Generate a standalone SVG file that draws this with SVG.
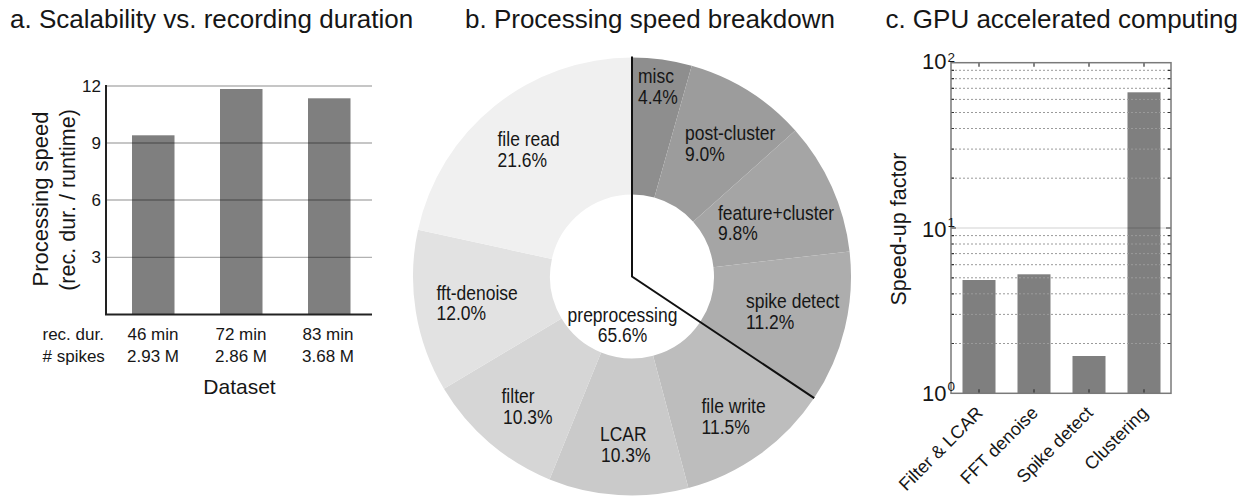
<svg xmlns="http://www.w3.org/2000/svg" width="1242" height="496" viewBox="0 0 1242 496">
<style>
text{font-family:"Liberation Sans",Arial,sans-serif;fill:#161616}
.title{font-size:26px}
.tick{font-size:17px}
.lab{font-size:17.5px}
.bar{fill:#7f7f7f}
.grid{stroke:#000;stroke-opacity:0.3;stroke-width:1.3}
.axis{stroke:#222;stroke-width:2;fill:none}
.dot{stroke:#9a9a9a;stroke-width:1;stroke-dasharray:2 2}
.box{stroke:#7a7a7a;stroke-width:1.5;fill:none}
.tk{stroke:#333;stroke-width:1.2}
</style>

<!-- Panel a -->
<g id="panel-a">
  <text class="title" x="10" y="28">a. Scalability vs. recording duration</text>
  <g id="a-bars">
    <rect class="bar" x="132" y="135.3" width="42.5" height="179.2"/>
    <rect class="bar" x="220" y="89" width="42.5" height="225.5"/>
    <rect class="bar" x="308" y="98.3" width="42.5" height="216.2"/>
  </g>
  <g id="a-grid">
    <line class="grid" x1="106" y1="86" x2="372" y2="86"/>
    <line class="grid" x1="106" y1="143" x2="372" y2="143"/>
    <line class="grid" x1="106" y1="200" x2="372" y2="200"/>
    <line class="grid" x1="106" y1="257.3" x2="372" y2="257.3"/>
  </g>
  <path class="axis" d="M106 85 V314.5 H372"/>
  <g id="a-ticks" class="tick">
    <text x="101" y="91.5" text-anchor="end">12</text>
    <text x="101" y="148.7" text-anchor="end">9</text>
    <text x="101" y="206" text-anchor="end">6</text>
    <text x="101" y="263.3" text-anchor="end">3</text>
  </g>
  <g id="a-xlabels" class="tick">
    <text x="42.5" y="340">rec. dur.</text>
    <text x="42.5" y="362"># spikes</text>
    <text x="153" y="340" text-anchor="middle">46 min</text>
    <text x="241" y="340" text-anchor="middle">72 min</text>
    <text x="328" y="340" text-anchor="middle">83 min</text>
    <text x="153" y="362" text-anchor="middle">2.93 M</text>
    <text x="241" y="362" text-anchor="middle">2.86 M</text>
    <text x="328" y="362" text-anchor="middle">3.68 M</text>
  </g>
  <text x="239.5" y="394" text-anchor="middle" font-size="21">Dataset</text>
  <text transform="translate(48,199) rotate(-90)" text-anchor="middle" font-size="22">Processing speed</text>
  <text transform="translate(75,200) rotate(-90)" text-anchor="middle" font-size="21.5">(rec. dur. / runtime)</text>
</g>

<!-- Panel b -->
<g id="panel-b">
  <text class="title" x="465" y="28">b. Processing speed breakdown</text>
  <g id="slices">
    <path id="s-misc" fill="#8e8e8e" d="M632 57.5 A219 219 0 0 1 691.72 65.8 L654.36 197.61 A82 82 0 0 0 632 194.5 Z"/>
    <path id="s-post" fill="#9c9c9c" d="M691.72 65.8 A219 219 0 0 1 795.29 130.51 L693.14 221.84 A82 82 0 0 0 654.36 197.61 Z"/>
    <path id="s-feat" fill="#a5a5a5" d="M795.29 130.51 A219 219 0 0 1 849.57 251.47 L713.46 267.13 A82 82 0 0 0 693.14 221.84 Z"/>
    <path id="s-spike" fill="#adadad" d="M849.57 251.47 A219 219 0 0 1 814.16 398.07 L700.21 322.02 A82 82 0 0 0 713.46 267.13 Z"/>
    <path id="s-fwrite" fill="#bdbdbd" d="M814.16 398.07 A219 219 0 0 1 688.41 488.12 L653.12 355.74 A82 82 0 0 0 700.21 322.02 Z"/>
    <path id="s-lcar" fill="#cacaca" d="M688.41 488.12 A219 219 0 0 1 549.55 479.38 L601.13 352.46 A82 82 0 0 0 653.12 355.74 Z"/>
    <path id="s-filter" fill="#d6d6d6" d="M549.55 479.38 A219 219 0 0 1 443.93 388.74 L561.58 318.53 A82 82 0 0 0 601.13 352.46 Z"/>
    <path id="s-fft" fill="#e2e2e2" d="M443.93 388.74 A219 219 0 0 1 418.04 229.77 L551.89 259 A82 82 0 0 0 561.58 318.53 Z"/>
    <path id="s-fread" fill="#f0f0f0" d="M418.04 229.77 A219 219 0 0 1 632 57.5 L632 194.5 A82 82 0 0 0 551.89 259 Z"/>
  </g>
  <path id="split-line" d="M632 56.5 V276.5 L814.2 398.1" fill="none" stroke="#111" stroke-width="2"/>
  <g id="pie-labels" class="lab">
    <text transform="matrix(1 0 0 1.12 638 83)">misc</text><text transform="matrix(1 0 0 1.12 638 103.5)">4.4%</text>
    <text transform="matrix(1 0 0 1.12 685 140)">post-cluster</text><text transform="matrix(1 0 0 1.12 685 161)">9.0%</text>
    <text transform="matrix(1 0 0 1.12 718 219.5)">feature+cluster</text><text transform="matrix(1 0 0 1.12 718 240)">9.8%</text>
    <text transform="matrix(1 0 0 1.12 746 308)">spike detect</text><text transform="matrix(1 0 0 1.12 746 328.5)">11.2%</text>
    <text transform="matrix(1 0 0 1.12 701.5 412.5)">file write</text><text transform="matrix(1 0 0 1.12 701.5 433.5)">11.5%</text>
    <text transform="matrix(1 0 0 1.12 600 441)">LCAR</text><text transform="matrix(1 0 0 1.12 601 461.5)">10.3%</text>
    <text transform="matrix(1 0 0 1.12 501.5 402.5)">filter</text><text transform="matrix(1 0 0 1.12 503 424)">10.3%</text>
    <text transform="matrix(1 0 0 1.12 436.5 299.5)">fft-denoise</text><text transform="matrix(1 0 0 1.12 436.5 320)">12.0%</text>
    <text transform="matrix(1 0 0 1.12 497.5 145.5)">file read</text><text transform="matrix(1 0 0 1.12 497.5 167)">21.6%</text>
    <text transform="matrix(1 0 0 1.12 622.5 321.5)" text-anchor="middle">preprocessing</text><text transform="matrix(1 0 0 1.12 622.5 341.5)" text-anchor="middle">65.6%</text>
  </g>
</g>

<!-- Panel c -->
<g id="panel-c">
  <text class="title" x="1238" y="28" text-anchor="end">c. GPU accelerated computing</text>
  <g id="c-bars">
    <rect class="bar" x="962.5" y="280" width="33" height="113.3"/>
    <rect class="bar" x="1017.5" y="274.3" width="33" height="119"/>
    <rect class="bar" x="1072.5" y="356" width="33" height="37.3"/>
    <rect class="bar" x="1127.5" y="92.3" width="33" height="301"/>
  </g>
  <g id="c-grid">
    <line class="dot" x1="951" y1="343.5" x2="1171" y2="343.5"/>
    <line class="dot" x1="951" y1="314.4" x2="1171" y2="314.4"/>
    <line class="dot" x1="951" y1="293.8" x2="1171" y2="293.8"/>
    <line class="dot" x1="951" y1="277.8" x2="1171" y2="277.8"/>
    <line class="dot" x1="951" y1="264.7" x2="1171" y2="264.7"/>
    <line class="dot" x1="951" y1="253.6" x2="1171" y2="253.6"/>
    <line class="dot" x1="951" y1="244" x2="1171" y2="244"/>
    <line class="dot" x1="951" y1="235.6" x2="1171" y2="235.6"/>
    <line x1="951" y1="228" x2="1171" y2="228" stroke="#000" stroke-opacity="0.18" stroke-width="1"/>
    <line class="dot" x1="951" y1="178.2" x2="1171" y2="178.2"/>
    <line class="dot" x1="951" y1="149.1" x2="1171" y2="149.1"/>
    <line class="dot" x1="951" y1="128.5" x2="1171" y2="128.5"/>
    <line class="dot" x1="951" y1="112.5" x2="1171" y2="112.5"/>
    <line class="dot" x1="951" y1="99.4" x2="1171" y2="99.4"/>
    <line class="dot" x1="951" y1="88.3" x2="1171" y2="88.3"/>
    <line class="dot" x1="951" y1="78.7" x2="1171" y2="78.7"/>
    <line class="dot" x1="951" y1="70.3" x2="1171" y2="70.3"/>
  </g>
  <g id="c-ticks">
    <path class="tk" d="M951 343.5h3M951 314.4h3M951 293.8h3M951 277.8h3M951 264.7h3M951 253.6h3M951 244h3M951 235.6h3M951 228h5M951 178.2h3M951 149.1h3M951 128.5h3M951 112.5h3M951 99.4h3M951 88.3h3M951 78.7h3M951 70.3h3"/>
    <path class="tk" d="M1171 343.5h-3M1171 314.4h-3M1171 293.8h-3M1171 277.8h-3M1171 264.7h-3M1171 253.6h-3M1171 244h-3M1171 235.6h-3M1171 228h-5M1171 178.2h-3M1171 149.1h-3M1171 128.5h-3M1171 112.5h-3M1171 99.4h-3M1171 88.3h-3M1171 78.7h-3M1171 70.3h-3"/>
    <path class="tk" d="M979 393.3v-4M1034 393.3v-4M1089 393.3v-4M1144 393.3v-4M979 62.7v4M1034 62.7v4M1089 62.7v4M1144 62.7v4"/>
  </g>
  <rect class="box" x="951" y="62.7" width="220" height="330.6"/>
  <g id="c-yticks">
    <text x="946.5" y="400.7" text-anchor="end" font-size="22">10</text><text x="947.5" y="391" font-size="13.5">0</text>
    <text x="946.5" y="236.5" text-anchor="end" font-size="22">10</text><text x="947.5" y="227" font-size="13.5">1</text>
    <text x="946.5" y="69" text-anchor="end" font-size="22">10</text><text x="947.5" y="61.5" font-size="13.5">2</text>
  </g>
  <text transform="translate(906,229) rotate(-90)" text-anchor="middle" font-size="21.5">Speed-up factor</text>
  <g id="c-xlabels" font-size="18">
    <text transform="translate(984,414) rotate(-45)" text-anchor="end">Filter &amp; LCAR</text>
    <text transform="translate(1039,414) rotate(-45)" text-anchor="end">FFT denoise</text>
    <text transform="translate(1094,414) rotate(-45)" text-anchor="end">Spike detect</text>
    <text transform="translate(1149,414) rotate(-45)" text-anchor="end">Clustering</text>
  </g>
</g>
</svg>
